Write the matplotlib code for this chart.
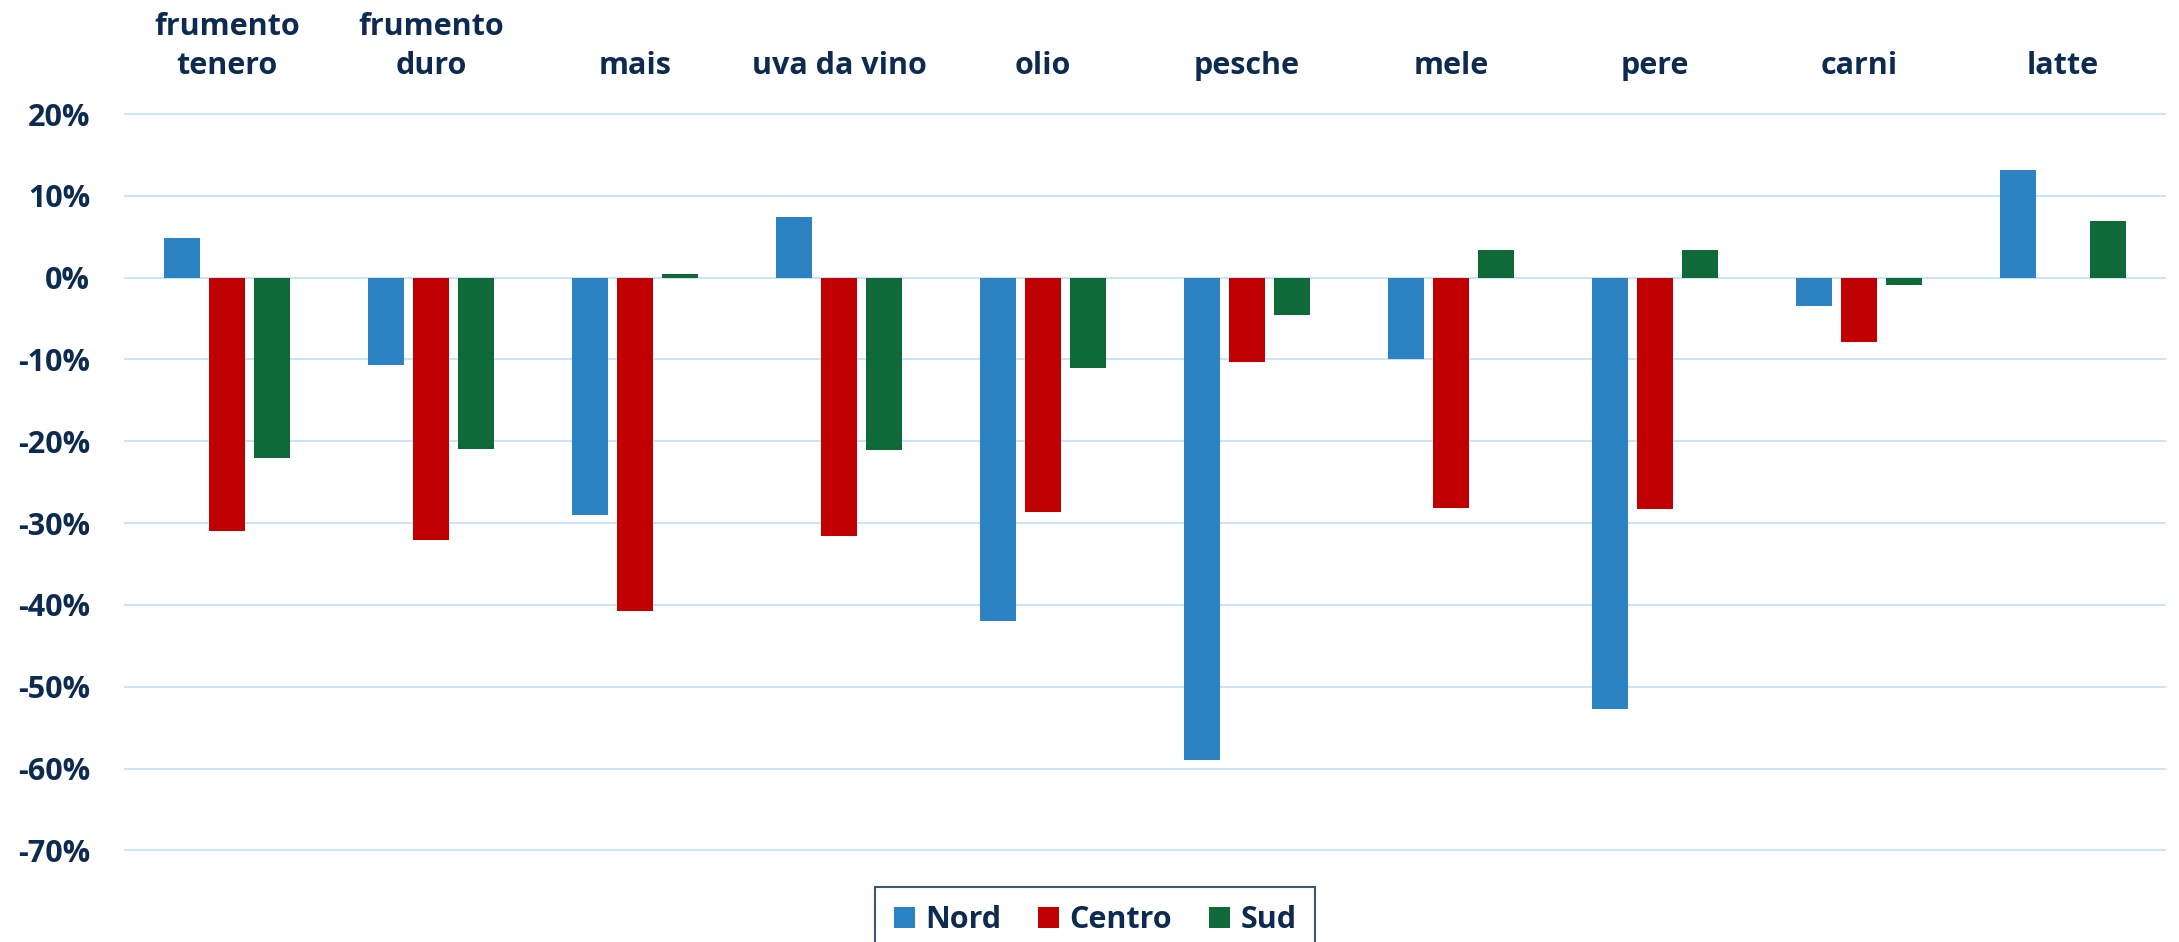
import numpy as np
import matplotlib
matplotlib.use("Agg")
import matplotlib.pyplot as plt
from matplotlib.ticker import FuncFormatter

# variazione % per prodotto e area
categories = ["frumento\ntenero", "frumento\nduro", "mais", "uva da vino", "olio",
              "pesche", "mele", "pere", "carni", "latte"]
nord = [4.9, -10.7, -29.0, 7.4, -42.0, -59.0, -10.0, -52.7, -3.5, 13.2]
centro = [-31.0, -32.1, -40.8, -31.6, -28.6, -10.3, -28.2, -28.3, -7.9, 0.0]
sud = [-22.0, -20.9, 0.5, -21.1, -11.1, -4.5, 3.4, 3.4, -0.9, 6.9]
series = [("Nord", nord, "#2B83C4"), ("Centro", centro, "#C00000"), ("Sud", sud, "#0E6B39")]
yticks = list(range(-70, 21, 10))

navy = "#0D2B50"
plt.rcParams['font.family'] = ['Open Sans', 'DejaVu Sans']
plt.rcParams['font.weight'] = 'bold'

fig = plt.figure(figsize=(21.79, 9.42), dpi=100)
ax = fig.add_axes([0.0574, 0.0973, 0.9362, 0.7816])

x = np.arange(len(categories))
w = 0.174
step = 0.221
for i, (name, vals, col) in enumerate(series):
    ax.bar(x + (i - 1) * step, vals, width=w, color=col, label=name, zorder=3)

ax.set_xlim(-0.5, len(categories) - 0.5)
ax.set_ylim(-70, 20)
ax.set_yticks(yticks)
ax.yaxis.set_major_formatter(FuncFormatter(lambda v, p: f"{int(round(v))}%"))
ax.grid(axis='y', color="#C4E2F8", linewidth=1.3, zorder=0)
for gl in ax.get_ygridlines():
    gl.set_clip_on(False)
for s in ax.spines.values():
    s.set_visible(False)

ax.set_xticks(x)
ax.set_xticklabels(categories, linespacing=1.4)
ax.xaxis.set_ticks_position('top')
ax.tick_params(axis='x', length=0, pad=24, labelsize=22, labelcolor=navy)
ax.tick_params(axis='y', length=0, pad=25, labelsize=22, labelcolor=navy)

leg = fig.legend(loc='upper center', bbox_to_anchor=(0.5025, 0.0585), ncol=3,
                 fontsize=22, frameon=True, fancybox=False, handlelength=0.7,
                 handleheight=0.72, handletextpad=0.33, columnspacing=1.2,
                 borderpad=0.6, borderaxespad=0)
leg.get_frame().set_edgecolor(navy)
leg.get_frame().set_linewidth(1.5)
for t in leg.get_texts():
    t.set_color(navy)

fig.savefig("out.png", dpi=100)
